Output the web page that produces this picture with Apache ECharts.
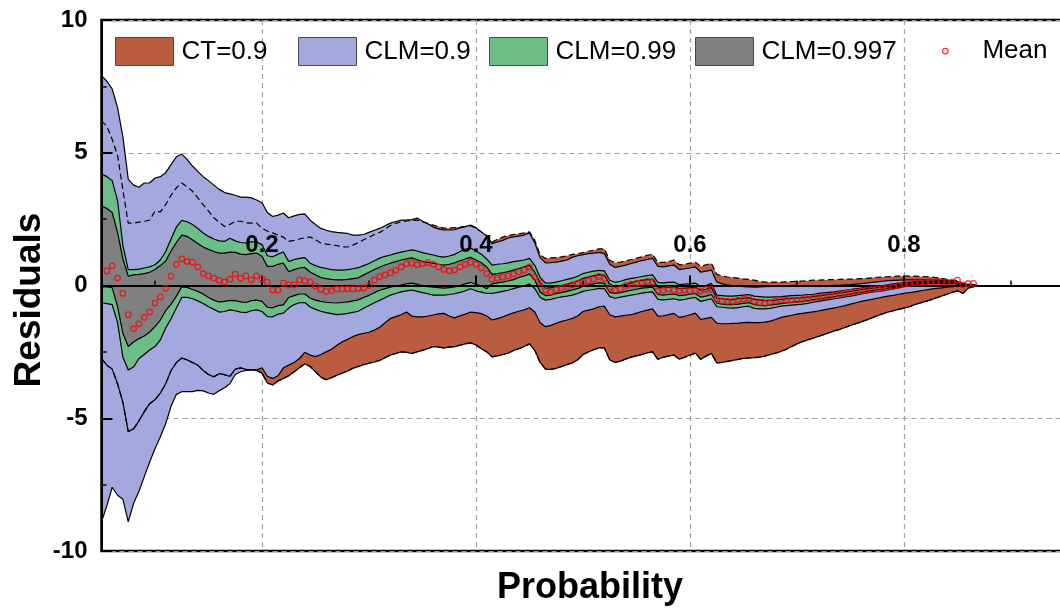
<!DOCTYPE html>
<html>
<head>
<meta charset="utf-8">
<script src="https://cdn.jsdelivr.net/npm/echarts@6/dist/echarts.min.js"></script>
<style>
  html, body { margin: 0; padding: 0; background: #fff; }
  #chart { width: 1060px; height: 615px; }
</style>
</head>
<body>
<div id="chart"></div>
<script>
// Probability grid (category axis), step 0.005 from 0.05; data covers 0.05 .. 0.87
const probability = [];
for (let k = 0; k <= 190; k++) probability.push((0.05 + k * 0.005).toFixed(3));

const xMajorTicks = ['0.2', '0.4', '0.6', '0.8'];
const xMinorTicks = ['0.1', '0.3', '0.5', '0.7', '0.9'];

// CT = 0.9 interval
const ctHi = [6.2,6.0,5.5,4.9,3.6,2.35,2.35,2.39,2.42,2.46,
2.8,2.77,3.05,3.4,3.68,3.86,3.72,3.55,3.3,3.05,
2.8,2.55,2.38,2.22,2.3,2.42,2.42,2.36,2.35,2.35,
2.15,2.05,1.98,1.9,1.82,1.66,1.7,1.75,1.8,1.83,
1.72,1.6,1.56,1.53,1.5,1.46,1.45,1.52,1.62,1.72,
1.82,1.92,2.0,2.12,2.26,2.34,2.4,2.43,2.45,2.46,
2.4,2.33,2.28,2.22,2.16,2.17,2.18,2.2,2.22,2.25,
2.15,2.02,1.87,1.64,1.74,1.82,1.88,1.92,1.95,1.98,
2.02,1.7,1.15,1.02,1.04,1.05,1.08,1.12,1.17,1.2,
1.24,1.29,1.33,1.38,1.38,0.95,0.86,0.88,0.93,0.98,
1.03,1.08,1.14,1.18,0.87,0.87,0.9,0.96,0.78,0.8,
0.84,0.88,0.72,0.78,0.84,0.42,0.36,0.32,0.3,0.28,
0.25,0.23,0.2,0.15,0.13,0.13,0.13,0.13,0.14,0.15,
0.16,0.17,0.18,0.2,0.2,0.21,0.22,0.22,0.23,0.24,
0.24,0.25,0.26,0.27,0.29,0.31,0.32,0.33,0.34,0.35,
0.36,0.35,0.35,0.34,0.33,0.32,0.3,0.27,0.23,0.19,
0.18,0.08,0.06,0.03,0];
const ctLo = [-2.75,-3.0,-3.15,-3.7,-4.4,-5.5,-5.4,-5.1,-4.75,-4.45,
-4.3,-4.05,-3.7,-3.2,-2.9,-2.73,-2.8,-2.9,-3.0,-3.2,
-3.35,-3.44,-3.32,-3.36,-3.42,-3.15,-3.1,-3.16,-3.18,-3.2,
-3.3,-3.67,-3.75,-3.6,-3.5,-3.4,-3.25,-3.1,-2.95,-3.05,
-3.25,-3.45,-3.55,-3.47,-3.38,-3.3,-3.22,-3.12,-3.05,-2.98,
-2.93,-2.88,-2.82,-2.72,-2.62,-2.56,-2.5,-2.52,-2.56,-2.5,
-2.44,-2.38,-2.3,-2.32,-2.35,-2.32,-2.3,-2.25,-2.2,-2.16,
-2.24,-2.38,-2.5,-2.69,-2.65,-2.6,-2.55,-2.45,-2.38,-2.3,
-2.2,-2.45,-2.9,-3.15,-3.16,-3.12,-3.05,-2.98,-2.92,-2.8,
-2.6,-2.5,-2.42,-2.35,-2.35,-2.8,-2.9,-2.85,-2.77,-2.7,
-2.65,-2.6,-2.54,-2.5,-2.78,-2.7,-2.66,-2.62,-2.78,-2.7,
-2.62,-2.55,-2.78,-2.66,-2.56,-2.92,-2.9,-2.86,-2.82,-2.78,
-2.75,-2.73,-2.72,-2.7,-2.66,-2.6,-2.55,-2.48,-2.4,-2.3,
-2.2,-2.12,-2.05,-1.98,-1.92,-1.85,-1.78,-1.71,-1.65,-1.58,
-1.5,-1.44,-1.37,-1.3,-1.22,-1.14,-1.07,-1.0,-0.95,-0.9,
-0.85,-0.8,-0.72,-0.66,-0.6,-0.54,-0.47,-0.4,-0.33,-0.26,
-0.2,-0.3,-0.1,-0.04,0];

// CLM = 0.9 interval
const clm90Hi = [7.9,7.7,7.4,6.7,5.6,4.0,3.78,3.7,3.86,3.86,
4.05,4.1,4.25,4.55,4.85,4.95,4.75,4.5,4.3,4.1,
3.95,3.78,3.62,3.5,3.45,3.4,3.33,3.33,3.3,3.22,
3.12,2.75,2.6,2.65,2.73,2.55,2.62,2.68,2.7,2.46,
2.3,2.15,2.08,2.03,2.0,1.98,1.96,1.9,1.9,1.92,
2.0,2.08,2.15,2.25,2.35,2.41,2.46,2.46,2.48,2.54,
2.42,2.33,2.2,2.13,2.09,2.09,2.1,2.17,2.22,2.28,
2.17,2.02,1.86,1.58,1.64,1.7,1.79,1.83,1.86,1.9,
1.98,1.6,1.04,0.85,0.86,0.88,0.92,0.96,1.06,1.12,
1.16,1.2,1.22,1.25,1.2,0.8,0.68,0.72,0.77,0.83,
0.88,0.94,0.98,1.02,0.72,0.7,0.74,0.77,0.6,0.63,
0.66,0.7,0.5,0.54,0.58,0.13,0.06,0.02,0.0,-0.02,
-0.04,-0.05,-0.06,-0.05,-0.04,-0.03,-0.02,-0.02,-0.02,-0.02,
-0.02,-0.02,-0.02,-0.01,-0.01,0.0,0.0,0.01,0.01,0.02,
0.03,0.05,0.07,0.09,0.12,0.14,0.16,0.18,0.19,0.2,
0.21,0.21,0.21,0.21,0.21,0.21,0.2,0.19,0.18,0.17,
0.15,0.05,0.04,0.02,0];
const clm90Lo = [-8.9,-8.3,-7.6,-7.9,-8.05,-8.9,-8.2,-7.75,-7.2,-6.65,
-6.15,-5.7,-5.2,-4.55,-4.1,-4.0,-4.0,-4.0,-3.95,-3.97,
-4.05,-4.1,-3.96,-3.85,-3.7,-3.35,-3.25,-3.2,-3.18,-3.18,
-3.1,-3.42,-3.5,-3.4,-3.1,-3.0,-2.9,-2.75,-2.52,-2.62,
-2.68,-2.6,-2.5,-2.4,-2.25,-2.12,-2.03,-1.92,-1.85,-1.8,
-1.76,-1.68,-1.57,-1.4,-1.24,-1.17,-1.1,-1.0,-1.15,-1.18,
-1.18,-1.15,-1.11,-1.07,-1.05,-1.15,-1.22,-1.14,-1.08,-1.0,
-1.02,-1.06,-1.15,-1.3,-1.25,-1.18,-1.1,-1.03,-0.97,-0.92,
-0.84,-1.0,-1.4,-1.55,-1.5,-1.42,-1.35,-1.3,-1.24,-1.15,
-0.98,-0.93,-0.88,-0.8,-0.78,-1.1,-1.18,-1.15,-1.12,-1.1,
-1.04,-0.98,-0.93,-0.88,-1.15,-1.14,-1.1,-1.05,-1.2,-1.16,
-1.1,-1.04,-1.28,-1.24,-1.2,-1.42,-1.44,-1.44,-1.43,-1.42,
-1.4,-1.39,-1.4,-1.4,-1.38,-1.34,-1.28,-1.2,-1.16,-1.12,
-1.08,-1.05,-1.02,-0.99,-0.96,-0.92,-0.88,-0.84,-0.8,-0.76,
-0.7,-0.65,-0.6,-0.56,-0.52,-0.48,-0.44,-0.4,-0.37,-0.33,
-0.3,-0.27,-0.24,-0.2,-0.17,-0.14,-0.11,-0.09,-0.06,-0.04,
-0.02,-0.02,-0.01,0.0,0];

// CLM = 0.99 interval
const clm99Hi = [4.2,4.1,3.95,3.2,1.5,0.6,0.6,0.62,0.66,0.7,
0.78,0.96,1.28,1.75,2.2,2.45,2.4,2.3,2.15,1.98,
1.85,1.75,1.68,1.66,1.78,1.68,1.62,1.6,1.64,1.64,
1.54,1.12,1.08,1.18,1.26,0.9,0.98,1.02,1.05,0.84,
0.75,0.68,0.64,0.6,0.58,0.58,0.6,0.63,0.67,0.75,
0.83,0.93,1.03,1.1,1.15,1.21,1.26,1.3,1.34,1.3,
1.24,1.19,1.15,1.1,1.07,1.11,1.17,1.28,1.36,1.41,
1.3,1.18,1.0,0.77,0.8,0.82,0.85,0.9,0.93,0.96,
1.02,0.75,0.3,0.09,0.1,0.13,0.18,0.23,0.28,0.35,
0.45,0.5,0.54,0.57,0.55,0.2,0.12,0.16,0.22,0.27,
0.3,0.34,0.37,0.4,0.12,0.1,0.12,0.13,0.03,0.05,
0.07,0.09,-0.04,0.0,0.08,-0.36,-0.38,-0.4,-0.4,-0.38,
-0.36,-0.34,-0.4,-0.42,-0.44,-0.44,-0.43,-0.42,-0.4,-0.38,
-0.37,-0.36,-0.34,-0.33,-0.3,-0.28,-0.26,-0.24,-0.21,-0.18,
-0.15,-0.12,-0.1,-0.07,-0.04,-0.02,0.0,0.03,0.06,0.09,
0.1,0.13,0.15,0.16,0.17,0.17,0.17,0.17,0.17,0.16,
0.12,0.04,0.03,0.01,0];
const clm99Lo = [-0.65,-0.68,-0.72,-1.4,-2.7,-3.18,-3.07,-2.75,-2.6,-2.43,
-2.3,-2.05,-1.6,-1.25,-0.85,-0.45,-0.45,-0.5,-0.58,-0.68,
-0.8,-0.9,-1.0,-0.98,-0.92,-0.95,-1.0,-1.02,-0.95,-0.92,
-0.98,-1.17,-1.18,-1.08,-1.04,-0.85,-0.72,-0.65,-0.64,-0.81,
-0.9,-0.97,-1.02,-1.06,-1.1,-1.08,-1.05,-1.01,-0.97,-0.86,
-0.75,-0.65,-0.56,-0.46,-0.36,-0.3,-0.24,-0.2,-0.17,-0.22,
-0.27,-0.31,-0.36,-0.36,-0.36,-0.34,-0.31,-0.26,-0.2,-0.12,
-0.2,-0.25,-0.3,-0.3,-0.26,-0.22,-0.18,-0.12,-0.06,-0.02,
0.06,-0.12,-0.45,-0.55,-0.52,-0.47,-0.43,-0.4,-0.36,-0.3,
-0.22,-0.18,-0.15,-0.11,-0.12,-0.42,-0.48,-0.44,-0.4,-0.36,
-0.33,-0.29,-0.26,-0.24,-0.52,-0.54,-0.52,-0.5,-0.55,-0.52,
-0.48,-0.45,-0.6,-0.55,-0.5,-0.8,-0.82,-0.84,-0.85,-0.83,
-0.8,-0.78,-0.86,-0.88,-0.88,-0.86,-0.82,-0.78,-0.76,-0.74,
-0.72,-0.7,-0.67,-0.63,-0.6,-0.56,-0.53,-0.5,-0.47,-0.43,
-0.4,-0.36,-0.32,-0.28,-0.25,-0.22,-0.2,-0.16,-0.12,-0.08,
-0.04,0.0,0.03,0.05,0.06,0.07,0.07,0.07,0.07,0.07,
0.05,0.0,0.0,0.0,0];

// CLM = 0.997 interval
const clm997Hi = [3.0,2.9,2.75,2.0,1.0,0.35,0.4,0.42,0.45,0.5,
0.6,0.75,0.92,1.3,1.62,1.9,1.85,1.72,1.58,1.45,
1.36,1.28,1.22,1.22,1.26,1.25,1.18,1.16,1.2,1.22,
1.1,0.72,0.72,0.8,0.84,0.52,0.6,0.66,0.68,0.51,
0.4,0.3,0.26,0.23,0.21,0.21,0.23,0.26,0.29,0.4,
0.5,0.6,0.69,0.77,0.84,0.9,0.96,1.0,1.04,0.97,
0.9,0.87,0.84,0.8,0.77,0.8,0.85,0.93,1.0,1.06,
0.96,0.86,0.7,0.42,0.45,0.48,0.52,0.58,0.64,0.7,
0.76,0.5,0.1,-0.1,-0.08,-0.04,0.0,0.05,0.1,0.17,
0.27,0.32,0.37,0.41,0.39,0.05,-0.04,0.0,0.05,0.1,
0.15,0.19,0.22,0.24,-0.06,-0.08,-0.06,-0.05,-0.12,-0.1,
-0.08,-0.06,-0.18,-0.14,-0.08,-0.48,-0.5,-0.52,-0.53,-0.5,
-0.48,-0.46,-0.52,-0.54,-0.56,-0.56,-0.55,-0.52,-0.5,-0.48,
-0.47,-0.46,-0.44,-0.42,-0.39,-0.36,-0.34,-0.31,-0.28,-0.25,
-0.22,-0.19,-0.16,-0.13,-0.1,-0.08,-0.06,-0.02,0.01,0.04,
0.07,0.1,0.12,0.13,0.14,0.14,0.14,0.14,0.14,0.13,
0.1,0.03,0.02,0.01,0];
const clm997Lo = [-0.05,-0.05,-0.08,-0.8,-1.8,-2.3,-2.13,-2.0,-1.9,-1.75,
-1.55,-1.3,-0.95,-0.7,-0.4,-0.05,-0.07,-0.15,-0.22,-0.32,
-0.45,-0.55,-0.62,-0.6,-0.56,-0.57,-0.62,-0.64,-0.57,-0.55,
-0.6,-0.82,-0.84,-0.76,-0.73,-0.45,-0.38,-0.32,-0.32,-0.47,
-0.55,-0.6,-0.63,-0.65,-0.66,-0.64,-0.62,-0.58,-0.54,-0.45,
-0.37,-0.27,-0.18,-0.12,-0.06,-0.02,0.02,0.06,0.09,0.04,
-0.01,-0.04,-0.06,-0.08,-0.1,-0.08,-0.05,0.0,0.06,0.12,
0.04,-0.01,-0.12,0.06,0.1,0.13,0.17,0.22,0.3,0.36,
0.44,0.2,-0.25,-0.38,-0.36,-0.3,-0.27,-0.22,-0.17,-0.12,
-0.03,0.02,0.06,0.1,0.08,-0.26,-0.3,-0.27,-0.22,-0.18,
-0.14,-0.1,-0.08,-0.06,-0.34,-0.36,-0.34,-0.32,-0.38,-0.36,
-0.33,-0.3,-0.44,-0.4,-0.34,-0.66,-0.7,-0.72,-0.72,-0.7,
-0.67,-0.65,-0.72,-0.75,-0.76,-0.74,-0.71,-0.68,-0.66,-0.64,
-0.62,-0.6,-0.57,-0.54,-0.51,-0.48,-0.45,-0.42,-0.39,-0.36,
-0.32,-0.29,-0.26,-0.22,-0.19,-0.16,-0.14,-0.1,-0.07,-0.04,
0.0,0.04,0.07,0.08,0.09,0.1,0.1,0.1,0.1,0.1,
0.07,0.01,0.01,0.01,0];

// Mean residual
const meanResidual = [null,0.55,0.74,0.28,-0.3,-1.1,-1.63,-1.45,-1.2,-1.0,
-0.66,-0.43,-0.1,0.35,0.8,1.0,0.9,0.88,0.7,0.45,
0.36,0.28,0.2,0.14,0.24,0.43,0.28,0.36,0.21,0.36,
0.25,0.13,-0.17,-0.17,0.09,0.02,0.02,0.21,0.17,0.13,
-0.02,-0.15,-0.22,-0.2,-0.13,-0.13,-0.13,-0.13,-0.11,-0.09,
0.0,0.2,0.33,0.4,0.48,0.58,0.7,0.82,0.84,0.78,
0.82,0.86,0.8,0.7,0.6,0.55,0.58,0.7,0.8,0.88,
0.8,0.66,0.45,0.24,0.28,0.32,0.36,0.43,0.51,0.58,
0.7,0.32,0.1,-0.17,-0.25,-0.16,-0.1,-0.05,0.02,0.09,
0.13,0.17,0.24,0.34,0.26,-0.08,-0.17,-0.13,0.0,0.05,
0.08,0.12,0.16,0.13,-0.2,-0.17,-0.14,-0.17,-0.2,-0.17,
-0.2,-0.2,-0.2,-0.15,-0.14,-0.5,-0.58,-0.6,-0.6,-0.55,
-0.51,-0.48,-0.6,-0.65,-0.67,-0.65,-0.58,-0.55,-0.55,-0.55,
-0.54,-0.52,-0.5,-0.48,-0.45,-0.42,-0.4,-0.36,-0.33,-0.29,
-0.26,-0.23,-0.2,-0.17,-0.15,-0.13,-0.11,-0.07,-0.04,0.0,
0.05,0.08,0.1,0.11,0.12,0.13,0.13,0.13,0.13,0.14,
0.2,0.02,0.08,0.08,null];

const FONT = '"Liberation Sans", Arial, Helvetica, sans-serif';
const COLORS = { ct: '#b95c40', clm90: '#a3a9df', clm99: '#6cbe86', clm997: '#808080' };

const width = (hi, lo) => hi.map((h, k) => +(h - lo[k]).toFixed(4));
const tickFilter = list => (idx, val) => list.indexOf(String(parseFloat(val))) >= 0;

// A band = lower-bound line + stacked width filled up to the upper bound
function band(key, name, lo, hi, fill, upperLine) {
  return [
    {
      name: name + ' lower', type: 'line', data: lo, stack: key, stackStrategy: 'all',
      symbol: 'none', silent: true, animation: false,
      lineStyle: { color: '#000', width: 1.2 }
    },
    {
      name: name, type: 'line', data: width(hi, lo), stack: key, stackStrategy: 'all',
      symbol: 'none', silent: true, animation: false, color: fill,
      lineStyle: upperLine ? { color: '#000', width: 1.2 } : { opacity: 0 },
      areaStyle: { color: fill, opacity: 1 }
    }
  ];
}
function dashed(name, data) {
  return {
    name: name, type: 'line', data: data, symbol: 'none', silent: true, animation: false,
    lineStyle: { color: '#000', width: 1.2, type: [6, 3.5] }
  };
}

const series = [].concat(
  band('ct', 'CT=0.9', ctLo, ctHi, COLORS.ct, false),
  band('clm90', 'CLM=0.9', clm90Lo, clm90Hi, COLORS.clm90, true),
  [dashed('CT upper', ctHi), dashed('CT lower', ctLo)],
  band('clm99', 'CLM=0.99', clm99Lo, clm99Hi, COLORS.clm99, true),
  band('clm997', 'CLM=0.997', clm997Lo, clm997Hi, COLORS.clm997, true),
  [{
    name: 'Mean', type: 'scatter', data: meanResidual, symbol: 'circle', symbolSize: 5.5,
    z: 12, silent: true, animation: false,
    itemStyle: { color: 'rgba(0,0,0,0)', borderColor: '#ff0000', borderWidth: 1.25 }
  }]
);

const legendText = { fontFamily: FONT, fontSize: 26, color: '#000', padding: [0, 0, 0, 3] };
function bandLegend(name, left, fill) {
  return {
    left: left, top: 37, padding: 0, itemWidth: 58, itemHeight: 28, selectedMode: false,
    textStyle: legendText,
    data: [{ name: name, icon: 'rect', itemStyle: { color: fill, borderColor: '#4a4a4a', borderWidth: 1 } }]
  };
}

const axisFont = { fontFamily: FONT, fontSize: 24, fontWeight: 'bold', color: '#000' };
const blackLine = { color: '#000', width: 2 };
const gridDash = { color: '#a0a0a0', width: 1.2, type: [5, 4] };

const option = {
  animation: false,
  backgroundColor: '#fff',
  grid: {
    left: 101.5, top: 20, right: -58, bottom: 64,
    show: true, borderColor: '#000', borderWidth: 2.5,
    containLabel: false, outerBoundsMode: 'none'
  },
  legend: [
    bandLegend('CT=0.9', 115, COLORS.ct),
    bandLegend('CLM=0.9', 298, COLORS.clm90),
    bandLegend('CLM=0.99', 489, COLORS.clm99),
    bandLegend('CLM=0.997', 695, COLORS.clm997),
    {
      left: 942, top: 38, padding: 0, itemWidth: 58, itemHeight: 5.5, selectedMode: false,
      textStyle: legendText,
      data: [{ name: 'Mean', icon: 'circle', itemStyle: { color: 'rgba(0,0,0,0)', borderColor: '#ff0000', borderWidth: 1.25 } }]
    }
  ],
  xAxis: [
    { // vertical dashed grid lines
      type: 'category', data: probability, boundaryGap: false, position: 'bottom',
      axisLine: { show: false, onZero: false }, axisTick: { show: false }, axisLabel: { show: false },
      splitLine: { show: true, interval: tickFilter(xMajorTicks), lineStyle: gridDash }
    },
    { // axis line through zero with major ticks
      type: 'category', data: probability, boundaryGap: false, position: 'bottom', z: 10,
      axisLine: { show: true, onZero: true, lineStyle: blackLine },
      axisTick: { show: true, inside: true, length: 10, interval: tickFilter(xMajorTicks), lineStyle: blackLine },
      axisLabel: { show: false },
      splitLine: { show: false }
    },
    { // minor ticks on the zero line
      type: 'category', data: probability, boundaryGap: false, position: 'bottom', z: 10,
      axisLine: { show: false, onZero: true },
      axisTick: { show: true, inside: true, length: 5, interval: tickFilter(xMinorTicks), lineStyle: { color: '#000', width: 1.5 } },
      axisLabel: { show: false }, splitLine: { show: false }
    },
    { // tick labels, sitting just above the zero line
      type: 'category', data: probability, boundaryGap: false, position: 'bottom', z: 10,
      axisLine: { show: false, onZero: false }, axisTick: { show: false },
      axisLabel: Object.assign({
        show: true, inside: true, margin: 294, interval: tickFilter(xMajorTicks),
        formatter: v => String(parseFloat(v))
      }, axisFont),
      splitLine: { show: false }
    }
  ],
  yAxis: [
    {
      type: 'value', min: -10, max: 10, interval: 5, position: 'left',
      axisLine: { show: false }, axisTick: { show: false }, axisLabel: { show: false },
      splitLine: { show: true, lineStyle: gridDash }
    },
    {
      type: 'value', min: -10, max: 10, interval: 5, position: 'left', z: 10,
      axisLine: { show: true, lineStyle: blackLine },
      axisTick: { show: true, inside: true, length: 11, lineStyle: blackLine },
      minorTick: { show: true, splitNumber: 2, length: 5, lineStyle: { color: '#000', width: 1.5 } },
      axisLabel: Object.assign({ show: true, margin: 14 }, axisFont),
      splitLine: { show: false }
    }
  ],
  graphic: [
    {
      type: 'text', x: 590, y: 588, silent: true,
      style: { text: 'Probability', fontFamily: FONT, fontSize: 36, fontWeight: 'bold', fill: '#000',
               align: 'center', verticalAlign: 'middle', textAlign: 'center', textVerticalAlign: 'middle' }
    },
    {
      type: 'text', x: 30, y: 300, rotation: Math.PI / 2, silent: true,
      style: { text: 'Residuals', fontFamily: FONT, fontSize: 37, fontWeight: 'bold', fill: '#000',
               align: 'center', verticalAlign: 'middle', textAlign: 'center', textVerticalAlign: 'middle' }
    }
  ],
  series: series
};

const chart = echarts.init(document.getElementById('chart'), null, { renderer: 'canvas' });
chart.setOption(option);
</script>
</body>
</html>
